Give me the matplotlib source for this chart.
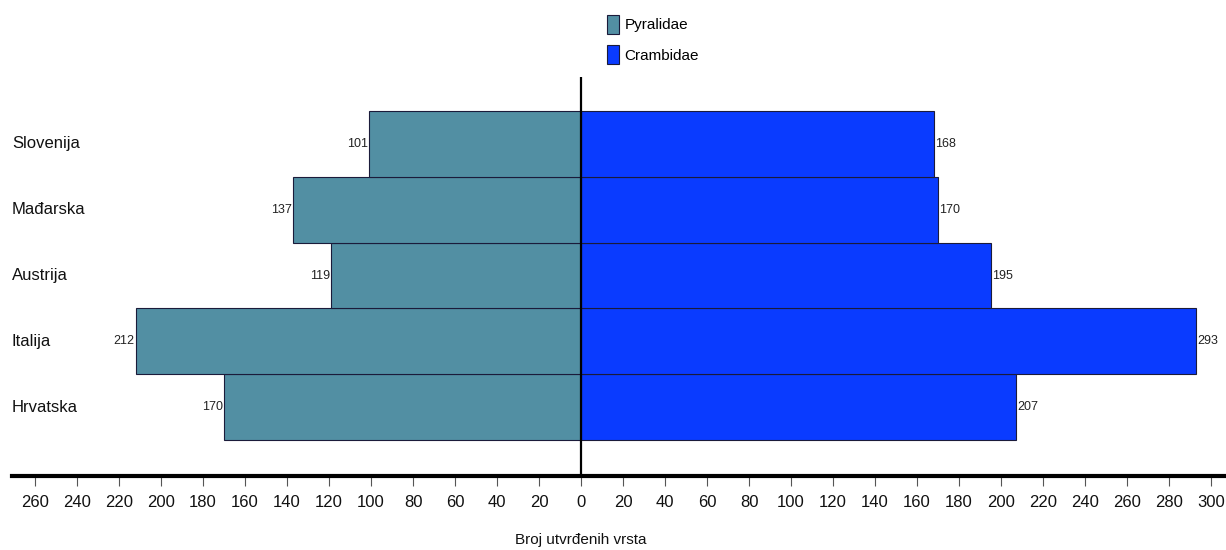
import matplotlib
matplotlib.use("Agg")
import matplotlib.pyplot as plt
from matplotlib.patches import Patch

countries = ["Hrvatska", "Italija", "Austrija", "Mađarska", "Slovenija"]
pyralidae = [170, 212, 119, 137, 101]
crambidae = [207, 293, 195, 170, 168]
series_names = ["Pyralidae", "Crambidae"]
tick_values = list(range(-260, 301, 20))
xlabel = "Broj utvrđenih vrsta"

plt.rcParams["font.family"] = ["Liberation Sans", "DejaVu Sans"]

c_pyr = "#528FA3"
c_cra = "#0A3BFF"
edge = "#1b1b3a"

W, H = 1226, 550
fig = plt.figure(figsize=(W / 100, H / 100), dpi=100)
ax_l, ax_r, ax_b, ax_t = 12, 1226, 476, 77
ax = fig.add_axes([ax_l / W, 1 - ax_b / H, (ax_r - ax_l) / W, (ax_b - ax_t) / H])

ypos = list(range(len(countries)))
ax.barh(ypos, [-v for v in pyralidae], height=1.0, color=c_pyr, edgecolor=edge, linewidth=0.8, zorder=2)
ax.barh(ypos, crambidae, height=1.0, color=c_cra, edgecolor=edge, linewidth=0.8, zorder=2)

ax.set_xlim(-271, 307.1)
ax.set_ylim(-1.047, 5.017)
ax.axvline(0, color="black", linewidth=1.6, zorder=3)

fs_val = 9
for y, v in zip(ypos, pyralidae):
    ax.annotate(str(v), (-v, y), xytext=(-1, 0), textcoords="offset points",
                ha="right", va="center", fontsize=fs_val, color="#222222")
for y, v in zip(ypos, crambidae):
    ax.annotate(str(v), (v, y), xytext=(1, 0), textcoords="offset points",
                ha="left", va="center", fontsize=fs_val, color="#222222")

fs_lab = 12
for y, name in zip(ypos, countries):
    ax.text(0.0, y, name, transform=ax.get_yaxis_transform(), ha="left", va="center",
            fontsize=fs_lab, color="#111111")

ax.set_xticks(tick_values)
ax.set_xticklabels([str(abs(t)) for t in tick_values], fontsize=fs_lab, color="#111111")
ax.tick_params(axis="x", direction="out", length=7.5, width=0.8, color="#555555", pad=6)
ax.set_yticks([])
for s in ["top", "left", "right"]:
    ax.spines[s].set_visible(False)
ax.spines["bottom"].set_linewidth(3)
ax.spines["bottom"].set_color("black")

fig.text(581 / W, 1 - 540 / H, xlabel, ha="center", va="center", fontsize=11, color="#111111")

handles = [Patch(facecolor=c_pyr, edgecolor=edge, linewidth=0.8),
           Patch(facecolor=c_cra, edgecolor=edge, linewidth=0.8)]
fig.legend(handles, series_names, loc="upper left", bbox_to_anchor=(601 / W, 1 - 9 / H),
           frameon=False, fontsize=11, handlelength=0.8, handleheight=1.5,
           handletextpad=0.35, labelspacing=0.75, borderaxespad=0)

fig.savefig("out.png", dpi=100)
